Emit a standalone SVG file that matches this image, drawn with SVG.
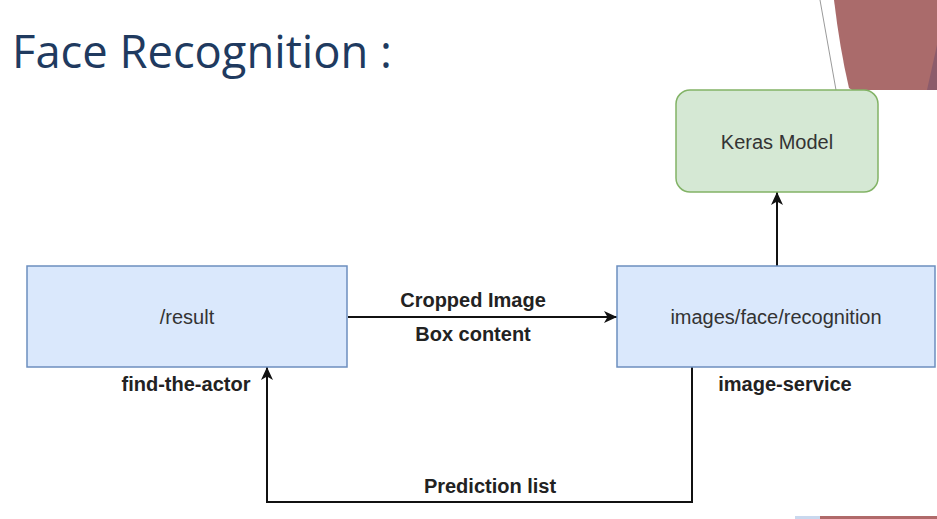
<svg xmlns="http://www.w3.org/2000/svg" width="937" height="519" viewBox="0 0 937 519">
<defs>
<style>
.box{fill:#dae8fc;stroke:#6c8ebf;stroke-width:1.5}
.model{fill:#d5e8d4;stroke:#82b366;stroke-width:1.5}
.nl{font-family:"Liberation Sans",Arial,sans-serif;font-size:20px;fill:#333;text-anchor:middle}
.el{font-family:"Liberation Sans",Arial,sans-serif;font-size:20px;font-weight:bold;fill:#222;text-anchor:middle}
.edge{fill:none;stroke:#111;stroke-width:2}
</style>
<marker id="arr" markerUnits="userSpaceOnUse" markerWidth="14" markerHeight="12" refX="13" refY="6" orient="auto">
<path d="M0,0 L13,6 L0,12 L3.5,6 Z" fill="#111"/>
</marker>
</defs>
<rect width="937" height="519" fill="#fff"/>
<g id="decoration">
<line x1="820" y1="0" x2="836" y2="90" stroke="#9a9a9a" stroke-width="1"/>
<path d="M834,0 L937,0 L937,90 L852,90 L849,88 Q840,50 834,0 Z" fill="#aa6b6b"/>
<path d="M937,45 L927,90 L937,90 Z" fill="#8c5b6b"/>
<rect x="795" y="516" width="25" height="3" fill="#c9d8ee"/>
<rect x="820" y="516" width="117" height="3" fill="#b06a6a"/>
</g>
<text id="title" x="12" y="68" font-family="'Open Sans','Noto Sans',sans-serif" font-size="46" fill="#203a5f" textLength="380" lengthAdjust="spacingAndGlyphs">Face Recognition :</text>
<g id="connectors">
<line class="edge" x1="348" y1="317" x2="617" y2="317" marker-end="url(#arr)"/>
<line class="edge" x1="777" y1="266" x2="777" y2="192" marker-end="url(#arr)"/>
<polyline class="edge" points="692,367 692,502 267,502 267,367" marker-end="url(#arr)"/>
<text class="el" x="473" y="307">Cropped Image</text>
<text class="el" x="473" y="341">Box content</text>
<text class="el" x="490" y="493">Prediction list</text>
</g>
<g id="node-result">
<rect class="box" x="27" y="266" width="320" height="101"/>
<text class="nl" x="187" y="324">/result</text>
<text class="el" x="186" y="391">find-the-actor</text>
</g>
<g id="node-recognition">
<rect class="box" x="617" y="266" width="318" height="101"/>
<text class="nl" x="776" y="324">images/face/recognition</text>
<text class="el" x="785" y="391">image-service</text>
</g>
<g id="node-keras">
<rect class="model" x="676" y="90" width="202" height="102" rx="14" ry="14"/>
<text class="nl" x="777" y="149">Keras Model</text>
</g>
</svg>
